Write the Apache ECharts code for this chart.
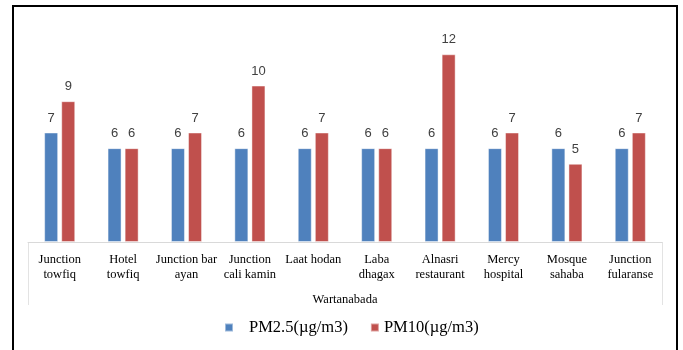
<!DOCTYPE html>
<html>
<head>
<meta charset="utf-8">
<script src="https://cdn.jsdelivr.net/npm/echarts@6/dist/echarts.min.js"></script>
<style>
  html, body { margin: 0; padding: 0; background: #fff; }
  #chart { width: 683px; height: 350px; }
</style>
</head>
<body>
<div id="chart"></div>
<script>
// Monitoring sites in Wartanabada district
const sites = [
  'Junction\ntowfiq', 'Hotel\ntowfiq', 'Junction bar\nayan', 'Junction\ncali kamin',
  'Laat hodan', 'Laba\ndhagax', 'Alnasri\nrestaurant', 'Mercy\nhospital',
  'Mosque\nsahaba', 'Junction\nfularanse'
];
// Particulate concentrations per site
const pm25 = [7, 6, 6, 6, 6, 6, 6, 6, 6, 6];
const pm10 = [9, 6, 7, 10, 7, 6, 12, 7, 5, 7];
const seriesNames = ['PM2.5(µg/m3)', 'PM10(µg/m3)'];

const GRID = { left: 28, right: 21, top: 23, bottom: 108 };
const W = 683, H = 350;
const serif = '"Liberation Serif", "Times New Roman", serif';
const sans = '"Liberation Sans", Arial, sans-serif';

const chart = echarts.init(document.getElementById('chart'), null, { renderer: 'canvas' });

const labelStyle = {
  show: true,
  position: 'top',
  distance: 8,
  color: '#404040',
  fontFamily: sans,
  fontSize: 13
};

chart.setOption({
  animation: false,
  backgroundColor: '#fff',
  grid: GRID,
  legend: {
    left: 219,
    top: 314,
    itemWidth: 8,
    itemHeight: 8,
    itemGap: 22,
    icon: 'rect',
    textStyle: { fontFamily: serif, fontSize: 16.5, color: '#000' },
    data: [
      { name: seriesNames[0], textStyle: { padding: [0, 0, 0, 11] } },
      { name: seriesNames[1] }
    ]
  },
  xAxis: {
    type: 'category',
    data: sites,
    name: 'Wartanabada',
    nameLocation: 'middle',
    nameGap: 51,
    nameTextStyle: { fontFamily: serif, fontSize: 12.5, color: '#000' },
    axisLine: { lineStyle: { color: '#d9d9d9', width: 1 } },
    axisTick: { show: false },
    axisLabel: {
      interval: 0,
      margin: 10,
      fontFamily: serif,
      fontSize: 12.5,
      lineHeight: 15,
      color: '#000'
    }
  },
  yAxis: {
    type: 'value',
    min: 0,
    max: 14,
    show: false,
    splitLine: { show: false }
  },
  series: [
    {
      name: seriesNames[0],
      type: 'bar',
      data: pm25,
      barWidth: 14,
      barGap: '22%',
      itemStyle: { color: '#4f81bd', borderColor: 'rgba(255,255,255,0.45)', borderWidth: 1 },
      label: labelStyle
    },
    {
      name: seriesNames[1],
      type: 'bar',
      data: pm10,
      barWidth: 14,
      barGap: '22%',
      itemStyle: { color: '#c0504d', borderColor: 'rgba(255,255,255,0.45)', borderWidth: 1 },
      label: labelStyle
    }
  ],
  graphic: [
    // outer frame
    {
      type: 'rect',
      shape: { x: 13, y: 6, width: 664, height: 370 },
      style: { fill: 'none', stroke: '#000', lineWidth: 2 }
    },
    // category block edges below the axis
    {
      type: 'line',
      shape: { x1: GRID.left + 0.5, y1: H - GRID.bottom, x2: GRID.left + 0.5, y2: 305 },
      style: { stroke: '#e3e3e3', lineWidth: 1 }
    },
    {
      type: 'line',
      shape: { x1: W - GRID.right + 0.5, y1: H - GRID.bottom, x2: W - GRID.right + 0.5, y2: 305 },
      style: { stroke: '#e3e3e3', lineWidth: 1 }
    }
  ]
});
</script>
</body>
</html>
